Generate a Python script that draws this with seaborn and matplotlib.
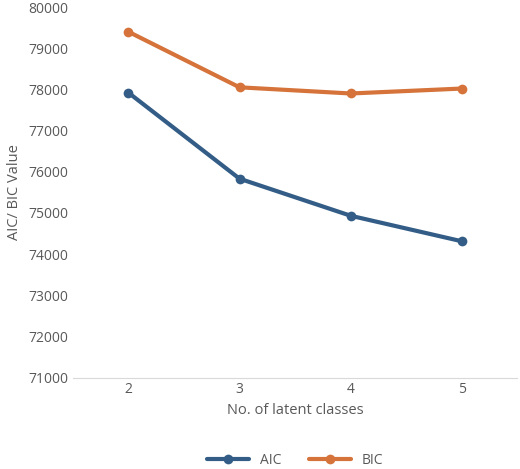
import matplotlib
matplotlib.use("Agg")
import matplotlib.pyplot as plt
import seaborn as sns
import pandas as pd

classes = [2, 3, 4, 5]
aic = [77920, 75830, 74930, 74310]
bic = [79400, 78050, 77900, 78020]

df = pd.DataFrame({"x": [str(c) for c in classes] * 2,
                   "v": aic + bic,
                   "s": ["AIC"] * 4 + ["BIC"] * 4})

sns.set_style("white")
plt.rcParams['font.family'] = ['Open Sans', 'DejaVu Sans']
fig = plt.figure(figsize=(5.2, 4.69), dpi=100)
ax = fig.add_axes([0.14, 0.195, 0.855, 0.79])
sns.lineplot(data=df, x="x", y="v", hue="s", palette={"AIC": "#335D86", "BIC": "#D5733A"},
             marker="o", markersize=7, markeredgewidth=0, linewidth=3, ax=ax, sort=False)
ax.set_ylim(71000, 80000)
ax.set_xlim(-0.5, 3.5)
ax.set_yticks(range(71000, 80001, 1000))
for s in ["top", "right", "left"]:
    ax.spines[s].set_visible(False)
ax.spines["bottom"].set_color("#D9D9D9")
ax.tick_params(colors="#595959", labelsize=10, length=0)
ax.set_xlabel("No. of latent classes", color="#595959", fontsize=10.5)
ax.set_ylabel("AIC/ BIC Value", color="#595959", fontsize=10.5)
ax.legend(loc="upper center", bbox_to_anchor=(0.5, -0.17), ncol=2, frameon=False,
          fontsize=10, labelcolor="#595959", handlelength=3)
fig.savefig("out.png", dpi=100)
